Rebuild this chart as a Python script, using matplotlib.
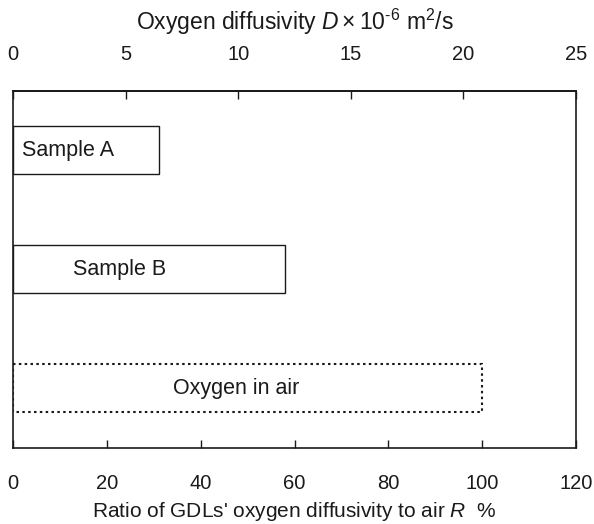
import matplotlib
matplotlib.use("Agg")
import matplotlib.pyplot as plt

plt.rcParams['font.family'] = ['Liberation Sans', 'DejaVu Sans']
plt.rcParams['mathtext.fontset'] = 'custom'
plt.rcParams['mathtext.rm'] = 'Liberation Sans'
plt.rcParams['mathtext.it'] = 'Liberation Sans:italic'

# ratio of oxygen diffusivity to air, %
labels = ["Sample A", "Sample B", "Oxygen in air"]
ratio = [31.1, 57.9, 100.0]
label_x = [1.9, 22.7, 47.5]
label_ha = ["left", "center", "center"]
styles = ["-", "-", (0, (1.2, 1.6))]

d_air = 25.0 / 120.0  # top axis: D (1e-6 m2/s) per percent on bottom axis

fig = plt.figure(figsize=(5.94, 5.24), dpi=100)
ax = fig.add_axes([0.0224, 0.1456, 0.9468, 0.6813])

ypos = [1, 2, 3]
for y, r, ls, lab, lx, ha in zip(ypos, ratio, styles, labels, label_x, label_ha):
    lw = 1.5 if ls != "-" else 1.0
    ax.barh(y, r, height=0.4, left=0, facecolor="white", edgecolor="#1a1a1a",
            linewidth=lw, linestyle=ls)
    ax.text(lx, y, lab, ha=ha, va="center", fontsize=15.5, color="#1a1a1a")

ax.set_xlim(0, 120)
ax.set_ylim(3.5, 0.5)
ax.set_xticks(range(0, 121, 20))
ax.set_yticks([])
ax.tick_params(axis="x", direction="in", length=6, width=1, pad=19,
               labelsize=14.5, colors="#1a1a1a")
for s in ax.spines.values():
    s.set_linewidth(1.2)
    s.set_color("#1a1a1a")
ax.set_xlabel("Ratio of GDLs' oxygen diffusivity to air $R$  %", fontsize=15,
              labelpad=5, color="#1a1a1a")

top = ax.secondary_xaxis("top", functions=(lambda r: r * d_air, lambda d: d / d_air))
top.set_xticks(range(0, 26, 5))
top.tick_params(direction="in", length=6, width=1, pad=19, labelsize=14.5,
                colors="#1a1a1a")
top.spines["top"].set_linewidth(1.2)
top.set_xlabel(r"Oxygen diffusivity $D\times$10$^{\text{-6}}$ m$^{2}$/s", fontsize=16.5,
               labelpad=11, color="#1a1a1a")

fig.savefig("out.png", dpi=100)
